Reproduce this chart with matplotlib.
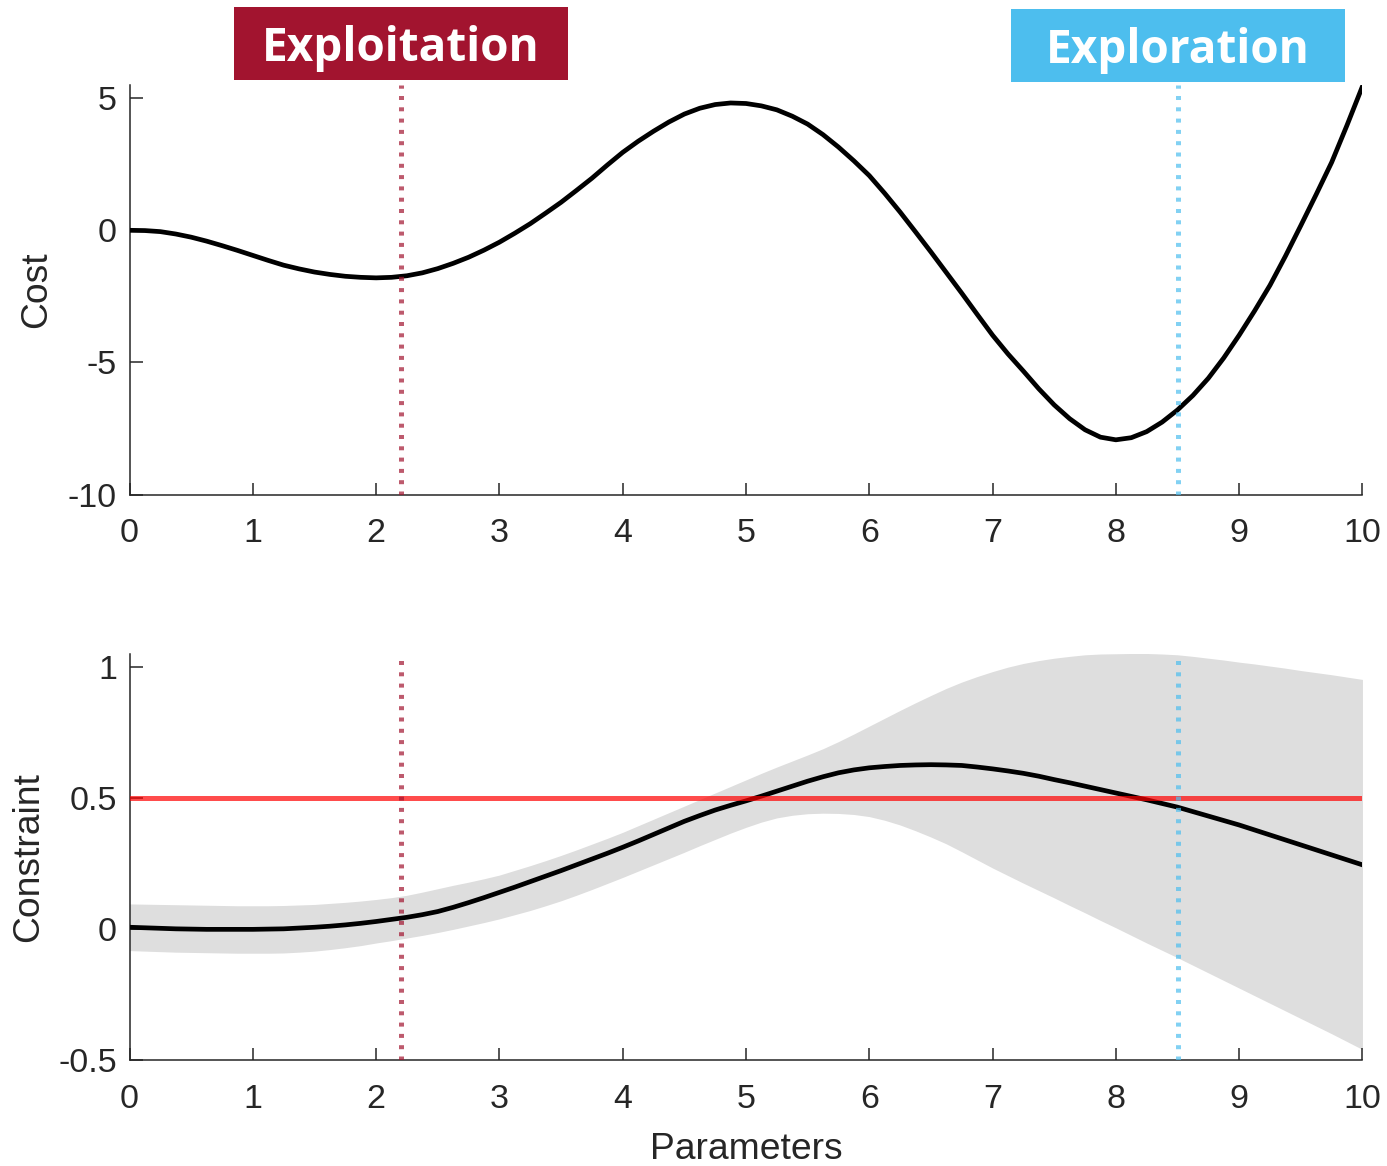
import numpy as np
import matplotlib
matplotlib.use("Agg")
import matplotlib.pyplot as plt
from matplotlib.patches import Rectangle

plt.rcParams['font.family'] = ['Liberation Sans', 'DejaVu Sans']
plt.rcParams['axes.unicode_minus'] = False

# parameter grid shared by every curve (step 0.125)
x = np.arange(0, 10.001, 0.125)

# objective (cost) curve
cost = [0.0, -0.01, -0.05, -0.14, -0.26, -0.41, -0.58, -0.76,
        -0.95, -1.14, -1.32, -1.46, -1.58, -1.67, -1.74, -1.78,
        -1.80, -1.78, -1.72, -1.61, -1.45, -1.25, -1.02, -0.75,
        -0.45, -0.11, 0.25, 0.65, 1.06, 1.51, 1.97, 2.47,
        2.95, 3.37, 3.75, 4.10, 4.40, 4.62, 4.76, 4.82,
        4.80, 4.71, 4.56, 4.32, 4.02, 3.62, 3.15, 2.63,
        2.07, 1.40, 0.69, -0.06, -0.82, -1.60, -2.38, -3.18,
        -3.97, -4.68, -5.33, -6.00, -6.61, -7.13, -7.55, -7.83,
        -7.93, -7.85, -7.62, -7.26, -6.80, -6.25, -5.60, -4.83,
        -3.97, -3.05, -2.08, -0.98, 0.18, 1.36, 2.57, 3.98,
        5.45]

# constraint model: mean and band
con_mean = [0.008, 0.006, 0.004, 0.002, 0.001, 0.000, 0.000, 0.000,
            0.000, 0.001, 0.002, 0.005, 0.008, 0.012, 0.017, 0.023,
            0.030, 0.038, 0.046, 0.056, 0.068, 0.084, 0.102, 0.121,
            0.141, 0.161, 0.182, 0.203, 0.224, 0.246, 0.268, 0.290,
            0.313, 0.337, 0.362, 0.387, 0.412, 0.434, 0.455, 0.473,
            0.490, 0.508, 0.527, 0.546, 0.565, 0.582, 0.597, 0.608,
            0.616, 0.621, 0.625, 0.627, 0.628, 0.627, 0.625, 0.619,
            0.612, 0.604, 0.595, 0.584, 0.571, 0.559, 0.546, 0.533,
            0.520, 0.507, 0.494, 0.480, 0.466, 0.449, 0.432, 0.415,
            0.398, 0.379, 0.360, 0.341, 0.322, 0.303, 0.284, 0.265,
            0.246]
con_upper = [0.097, 0.096, 0.095, 0.094, 0.093, 0.092, 0.091, 0.090,
             0.090, 0.090, 0.091, 0.093, 0.095, 0.099, 0.103, 0.108,
             0.114, 0.121, 0.130, 0.142, 0.155, 0.168, 0.180, 0.193,
             0.207, 0.225, 0.243, 0.262, 0.282, 0.303, 0.325, 0.347,
             0.370, 0.395, 0.420, 0.445, 0.470, 0.495, 0.520, 0.545,
             0.570, 0.595, 0.619, 0.642, 0.665, 0.689, 0.716, 0.745,
             0.775, 0.805, 0.835, 0.864, 0.892, 0.919, 0.943, 0.964,
             0.983, 1.000, 1.014, 1.025, 1.034, 1.041, 1.047, 1.050,
             1.051, 1.052, 1.052, 1.050, 1.047, 1.041, 1.034, 1.027,
             1.019, 1.012, 1.004, 0.996, 0.987, 0.979, 0.971, 0.962,
             0.953]
con_lower = [-0.081, -0.083, -0.085, -0.087, -0.088, -0.089, -0.090, -0.091,
             -0.091, -0.091, -0.090, -0.087, -0.083, -0.077, -0.070, -0.062,
             -0.052, -0.043, -0.033, -0.023, -0.012, 0.000, 0.013, 0.026,
             0.040, 0.056, 0.072, 0.090, 0.109, 0.130, 0.152, 0.175,
             0.198, 0.222, 0.246, 0.270, 0.294, 0.319, 0.343, 0.367,
             0.389, 0.409, 0.425, 0.435, 0.441, 0.443, 0.442, 0.438,
             0.430, 0.416, 0.398, 0.376, 0.352, 0.326, 0.296, 0.265,
             0.234, 0.205, 0.176, 0.148, 0.120, 0.091, 0.063, 0.034,
             0.006, -0.023, -0.052, -0.080, -0.108, -0.137, -0.166, -0.195,
             -0.224, -0.253, -0.282, -0.311, -0.340, -0.369, -0.398, -0.428,
             -0.458]
threshold = 0.5

x_exploit = 2.2
x_explore = 8.5

xticks = list(range(11))
cost_ticks = [5, 0, -5, -10]
cost_ticklabels = ['5', '0', '-5', '-10']
con_ticks = [1, 0.5, 0, -0.5]
con_ticklabels = ['1', '0.5', '0', '-0.5']

dark = '#262626'
red_sel = (0.635, 0.078, 0.184)
blue_sel = (0.301, 0.745, 0.933)

fig = plt.figure(figsize=(13.87, 11.66), dpi=100)
ax1 = fig.add_axes([0.0934, 0.5759, 0.8889, 0.3512])
ax2 = fig.add_axes([0.0934, 0.0905, 0.8889, 0.3486])


def style(ax):
    for s in ['top', 'right']:
        ax.spines[s].set_visible(False)
    for s in ['left', 'bottom']:
        ax.spines[s].set_color(dark)
        ax.spines[s].set_linewidth(1.1)
    ax.tick_params(direction='in', length=9, width=1.1, color=dark,
                   labelsize=24.5, labelcolor=dark)
    ax.tick_params(axis='x', pad=17)
    ax.tick_params(axis='y', pad=9)
    ax.set_xlim(0, 10)
    ax.set_xticks(xticks)


def sel_lines(ax):
    ax.axvline(x_exploit, color=red_sel, alpha=0.7, lw=3.6,
               dashes=(0.8, 1.46), dash_capstyle='butt', zorder=5)
    ax.axvline(x_explore, color=blue_sel, alpha=0.7, lw=3.6,
               dashes=(0.8, 1.46), dash_capstyle='butt', zorder=5)


# top: cost
ax1.plot(x, cost, color='black', lw=3.4, zorder=3, solid_joinstyle='round')
sel_lines(ax1)
style(ax1)
ax1.set_ylim(-10, 5.5)
ax1.set_yticks(cost_ticks)
ax1.set_yticklabels(cost_ticklabels)
ax1.set_ylabel('Cost', fontsize=26.8, color=dark)
ax1.yaxis.set_label_coords(-0.061, 0.5)

# bottom: constraint
ax2.fill_between(x, con_lower, con_upper, color='#dedede', lw=0, zorder=1)
ax2.plot(x, con_mean, color='black', lw=3.4, zorder=3, solid_joinstyle='round')
ax2.axhline(threshold, color='red', alpha=0.7, lw=3.6, zorder=4)
sel_lines(ax2)
style(ax2)
ax2.set_ylim(-0.5, 1.05)
ax2.set_yticks(con_ticks)
ax2.set_yticklabels(con_ticklabels)
ax2.set_ylabel('Constraint', fontsize=26.8, color=dark)
ax2.yaxis.set_label_coords(-0.068, 0.5)
ax2.set_xlabel('Parameters', fontsize=26.8, color=dark, va='top')
ax2.xaxis.set_label_coords(0.5, -0.175)

# headline tags centred over the two selected points
bw, bh = 0.2408, 0.0626
for xv, label, col, yb in [(x_exploit, 'Exploitation', red_sel, 0.9314),
                          (x_explore, 'Exploration', blue_sel, 0.9297)]:
    px = ax1.transData.transform((xv, 0))[0]
    xc = fig.transFigure.inverted().transform((px, 0))[0]
    fig.add_artist(Rectangle((xc - bw / 2, yb), bw, bh, transform=fig.transFigure,
                             facecolor=col, edgecolor='none'))
    fig.text(xc, yb + bh / 2 - 0.004, label, ha='center', va='center', color='white',
             fontsize=33, fontweight='bold', family=['Open Sans', 'DejaVu Sans'])

fig.savefig('out.png', dpi=100)
